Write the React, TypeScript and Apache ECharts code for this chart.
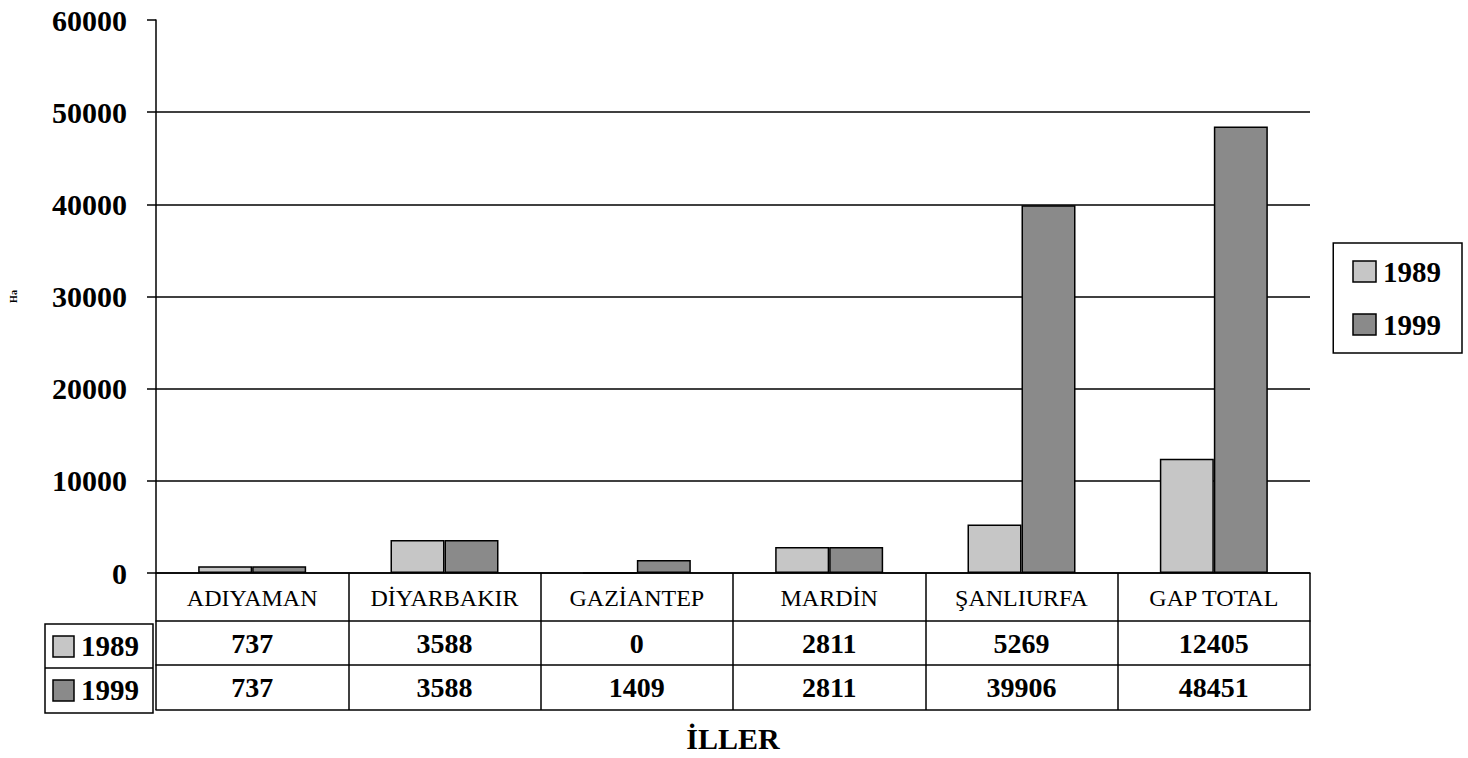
import React, { useEffect, useRef } from "react";
import * as echarts from "echarts";

const categories = ["ADIYAMAN", "DİYARBAKIR", "GAZİANTEP", "MARDİN", "ŞANLIURFA", "GAP TOTAL"];
const seriesNames = ["1989", "1999"];
const values1989 = [737, 3588, 0, 2811, 5269, 12405];
const values1999 = [737, 3588, 1409, 2811, 39906, 48451];
const yTicks = { min: 0, max: 60000, interval: 10000 };
const colors = ["#c6c6c6", "#8a8a8a"];

const FONT = "Liberation Serif";

export default function App() {
  const ref = useRef<HTMLDivElement>(null);
  useEffect(() => {
    if (!ref.current) return;
    const chart = echarts.init(ref.current, null, { renderer: "svg" });
    const black = "#000";
    const boldText = { fontFamily: FONT, fontWeight: "bold", fontSize: 28, color: black };
    const valueAxis = (offset: number, vals: number[] | null, name?: string) => ({
      type: "category",
      data: categories,
      position: "bottom",
      offset,
      axisLine: { show: true, lineStyle: { color: black, width: 1.5 } },
      axisTick: { show: false },
      axisLabel: vals
        ? { show: true, interval: 0, margin: 8, formatter: (_v: string, i: number) => String(vals[i]), ...boldText }
        : { show: false },
      splitLine: { show: false },
      name: name || "",
      nameLocation: "middle",
      nameGap: 13,
      nameTextStyle: { ...boldText, fontSize: 30, verticalAlign: "top" },
    });
    chart.setOption({
      animation: false,
      backgroundColor: "#fff",
      grid: { left: 153, right: 158, top: 20, bottom: 182, containLabel: false },
      legend: {
        orient: "vertical",
        right: 6,
        top: 243,
        data: seriesNames,
        icon: "rect",
        itemWidth: 23,
        itemHeight: 21,
        itemGap: 24,
        padding: [14, 21, 14, 19],
        borderColor: black,
        borderWidth: 1.5,
        borderRadius: 0,
        textStyle: { ...boldText, fontSize: 29, padding: [0, 0, 0, 2] },
        itemStyle: { borderColor: black, borderWidth: 1.5 },
      },
      xAxis: [
        {
          type: "category",
          data: categories,
          position: "bottom",
          axisLine: { show: true, lineStyle: { color: black, width: 1.5 } },
          axisTick: { show: true, interval: 0, length: 137, lineStyle: { color: black, width: 1.5 } },
          axisLabel: { interval: 0, margin: 13, fontFamily: FONT, fontSize: 24, color: black },
          splitLine: { show: false },
        },
        valueAxis(48, values1989),
        valueAxis(92, values1999),
        valueAxis(137, null, "İLLER"),
      ],
      yAxis: {
        type: "value",
        min: yTicks.min,
        max: yTicks.max,
        interval: yTicks.interval,
        name: "Ha",
        nameLocation: "middle",
        nameGap: 138,
        nameRotate: 90,
        nameTextStyle: { fontFamily: FONT, fontWeight: "bold", fontSize: 10, color: black },
        axisLine: { show: true, lineStyle: { color: black, width: 1.5 } },
        axisTick: { show: true, length: 9, lineStyle: { color: black, width: 1.5 } },
        axisLabel: { margin: 29, formatter: (v: number) => String(v), ...boldText, fontSize: 30 },
        splitLine: {
          show: true,
          lineStyle: {
            color: [black, black, black, black, black, black, "rgba(0,0,0,0)"],
            width: 1.5,
          },
        },
      },
      series: [
        {
          name: seriesNames[0],
          type: "bar",
          data: values1989,
          barWidth: 54,
          barGap: "0%",
          itemStyle: { color: colors[0], borderColor: black, borderWidth: 1.5 },
        },
        {
          name: seriesNames[1],
          type: "bar",
          data: values1999,
          barWidth: 54,
          barGap: "0%",
          itemStyle: { color: colors[1], borderColor: black, borderWidth: 1.5 },
        },
      ],
      graphic: [
        {
          type: "rect",
          shape: { x: 45, y: 624, width: 108, height: 89 },
          style: { fill: "none", stroke: black, lineWidth: 1.5 },
        },
        {
          type: "line",
          shape: { x1: 45, y1: 668, x2: 153, y2: 668 },
          style: { stroke: black, lineWidth: 1.5 },
        },
        {
          type: "rect",
          shape: { x: 53, y: 636, width: 21, height: 21 },
          style: { fill: colors[0], stroke: black, lineWidth: 1.5 },
        },
        {
          type: "rect",
          shape: { x: 53, y: 680, width: 21, height: 21 },
          style: { fill: colors[1], stroke: black, lineWidth: 1.5 },
        },
        {
          type: "text",
          x: 81,
          y: 646,
          style: { text: seriesNames[0], font: `bold 29px "${FONT}"`, fill: black, verticalAlign: "middle" },
        },
        {
          type: "text",
          x: 81,
          y: 690,
          style: { text: seriesNames[1], font: `bold 29px "${FONT}"`, fill: black, verticalAlign: "middle" },
        },
      ],
    });
    return () => chart.dispose();
  }, []);
  return <div ref={ref} style={{ width: 1468, height: 758, position: "absolute", left: 0, top: 0 }} />;
}
